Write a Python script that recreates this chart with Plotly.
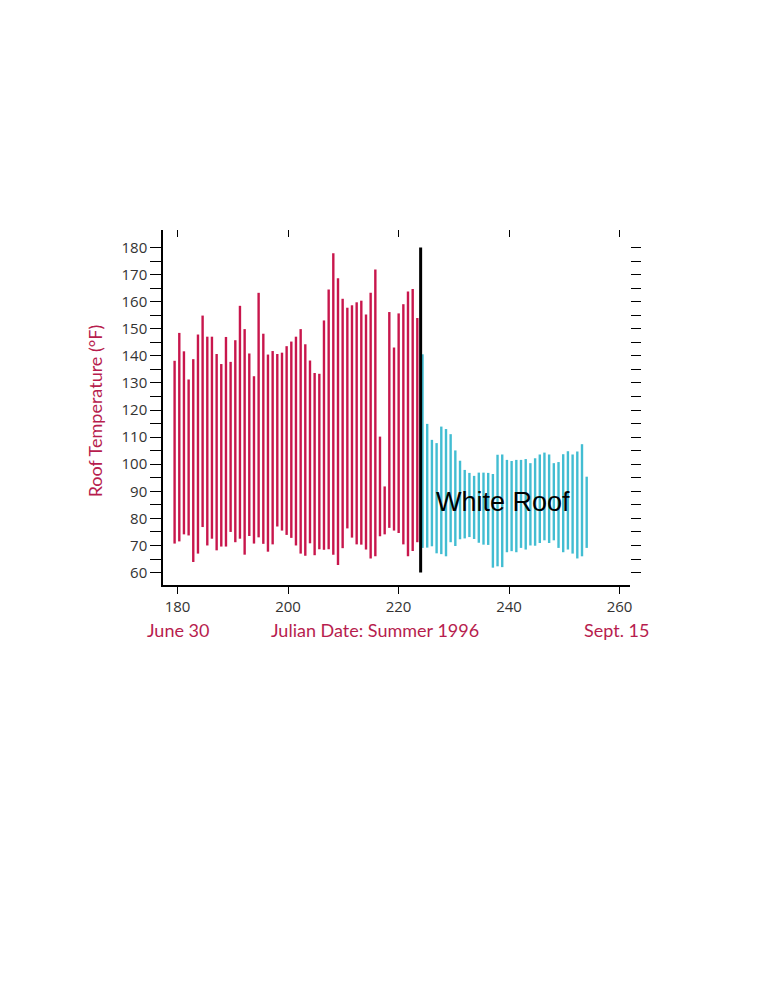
import plotly.graph_objects as go

# ---- data ----
black_roof_days = [179.46, 180.31, 181.15, 182.00, 182.84, 183.69, 184.53, 185.38, 186.22, 187.07,
                   187.91, 188.76, 189.60, 190.45, 191.29, 192.14, 192.98, 193.83, 194.67, 195.52,
                   196.36, 197.21, 198.05, 198.90, 199.74, 200.59, 201.43, 202.28, 203.12, 203.97,
                   204.81, 205.66, 206.50, 207.35, 208.19, 209.04, 209.88, 210.73, 211.57, 212.42,
                   213.26, 214.11, 214.95, 215.80, 216.64, 217.49, 218.33, 219.18, 220.02, 220.87,
                   221.71, 222.56, 223.40]
black_roof_max = [138.2, 148.5, 141.7, 131.3, 138.8, 147.9, 154.9, 147.1, 147.1, 140.7,
                  137.0, 147.0, 137.8, 145.8, 158.5, 149.9, 140.9, 132.5, 163.3, 148.2,
                  140.5, 141.8, 140.7, 141.2, 143.6, 145.3, 147.1, 149.9, 144.3, 138.3,
                  133.7, 133.4, 153.1, 164.5, 177.9, 168.7, 161.1, 157.8, 158.7, 159.8,
                  160.4, 155.3, 163.3, 171.9, 110.2, 91.8, 156.2, 143.1, 155.7, 159.1,
                  163.8, 164.7, 154.0]
black_roof_min = [70.7, 71.5, 74.1, 73.7, 63.9, 67.0, 76.8, 70.0, 72.5, 68.2,
                  69.6, 69.6, 75.0, 71.2, 72.5, 66.6, 73.5, 70.7, 73.0, 70.6,
                  67.7, 70.4, 77.0, 75.5, 73.9, 72.8, 70.0, 67.0, 66.2, 70.8,
                  66.4, 68.6, 68.4, 68.6, 66.6, 62.8, 69.0, 76.3, 72.9, 70.4,
                  70.3, 68.5, 65.2, 66.0, 73.4, 74.1, 76.5, 75.5, 74.6, 70.4,
                  66.0, 68.0, 71.2]

white_roof_days = [224.34, 225.19, 226.04, 226.89, 227.74, 228.59, 229.43, 230.28, 231.13, 231.98,
                   232.83, 233.68, 234.53, 235.38, 236.23, 237.08, 237.92, 238.77, 239.62, 240.47,
                   241.32, 242.17, 243.02, 243.87, 244.72, 245.57, 246.41, 247.26, 248.11, 248.96,
                   249.81, 250.66, 251.51, 252.36, 253.21, 254.06]
white_roof_max = [140.6, 114.9, 109.0, 107.8, 113.9, 113.0, 111.1, 105.1, 101.3, 97.9,
                  96.8, 95.7, 96.9, 96.9, 96.8, 96.4, 103.5, 103.6, 101.6, 101.2,
                  101.6, 101.6, 101.9, 100.4, 102.2, 103.6, 104.3, 103.6, 100.4, 100.8,
                  103.7, 104.8, 103.6, 104.7, 107.4, 95.4]
white_roof_min = [69.1, 69.2, 69.7, 67.1, 66.8, 66.0, 71.2, 69.8, 72.3, 72.6,
                  73.1, 72.4, 71.0, 70.3, 70.2, 61.8, 62.3, 62.0, 67.5, 67.9,
                  67.5, 69.1, 68.5, 70.0, 69.9, 70.9, 71.9, 70.9, 71.9, 69.1,
                  67.5, 68.5, 67.0, 65.2, 66.0, 69.1]

switch_day = 224.0
switch_span = [60, 180]

x_ticks = [180, 200, 220, 240, 260]
y_ticks = list(range(60, 181, 5))
y_ticklabels = [str(v) if v % 10 == 0 else "" for v in y_ticks]

RED = "#C8164C"
CYAN = "#42BDD2"
TEXT_RED = "#B71D4E"
X_RANGE = [177.36, 261.9]
Y_RANGE = [55.4, 186.5]


def segments(xs, lo, hi):
    sx, sy = [], []
    for x, a, b in zip(xs, lo, hi):
        sx += [x, x, None]
        sy += [a, b, None]
    return sx, sy


fig = go.Figure()
rx, ry = segments(black_roof_days, black_roof_min, black_roof_max)
fig.add_trace(go.Scatter(x=rx, y=ry, mode="lines", line=dict(color=RED, width=2.4),
                         showlegend=False, hoverinfo="skip"))
wx, wy = segments(white_roof_days, white_roof_min, white_roof_max)
fig.add_trace(go.Scatter(x=wx, y=wy, mode="lines", line=dict(color=CYAN, width=2.4),
                         showlegend=False, hoverinfo="skip"))
fig.add_trace(go.Scatter(x=[switch_day, switch_day], y=switch_span, mode="lines",
                         line=dict(color="black", width=3), showlegend=False, hoverinfo="skip"))
# mirror axes (top/right tick marks only)
fig.add_trace(go.Scatter(x=[None], y=[None], xaxis="x2", yaxis="y2", showlegend=False,
                         hoverinfo="skip"))

tickfont = dict(family="Open Sans", size=15, color="#333333")
redfont = dict(family="Lato", size=18, color=TEXT_RED)
fig.update_layout(
    width=772, height=1000,
    paper_bgcolor="white", plot_bgcolor="white",
    margin=dict(l=155, r=150, t=222, b=423),
    xaxis=dict(range=X_RANGE, tickvals=x_ticks, ticks="outside", ticklen=7, tickwidth=1.3,
               tickcolor="black", showline=True, linecolor="black", linewidth=1.5,
               showgrid=False, zeroline=False, tickfont=tickfont),
    yaxis=dict(range=Y_RANGE, tickvals=y_ticks, ticktext=y_ticklabels, ticks="outside",
               ticklen=11, tickwidth=1.3, tickcolor="black", showline=True, linecolor="black",
               linewidth=1.5, showgrid=False, zeroline=False, tickfont=tickfont),
    xaxis2=dict(range=X_RANGE, overlaying="x", side="top", tickvals=x_ticks, ticks="inside",
                ticklen=7, tickwidth=1.3, tickcolor="black", showline=False,
                showticklabels=False, showgrid=False, zeroline=False),
    yaxis2=dict(range=Y_RANGE, overlaying="y", side="right", tickvals=y_ticks, ticks="outside",
                ticklen=10, tickwidth=1.3, tickcolor="black", showline=False,
                showticklabels=False, showgrid=False, zeroline=False),
    annotations=[
        dict(text="Roof Temperature (°F)", xref="paper", yref="paper", x=-0.145, y=0.49,
             xanchor="center", yanchor="middle", textangle=-90, showarrow=False, font=redfont),
        dict(text="June 30", xref="paper", yref="paper", x=0.033, y=-0.127,
             xanchor="center", yanchor="middle", showarrow=False, font=redfont),
        dict(text="Julian Date: Summer 1996", xref="paper", yref="paper", x=0.454, y=-0.127,
             xanchor="center", yanchor="middle", showarrow=False, font=redfont),
        dict(text="Sept. 15", xref="paper", yref="paper", x=1.046, y=-0.127,
             xanchor="right", yanchor="middle", showarrow=False, font=redfont),
        dict(text="White Roof", xref="x", yref="y", x=238.9, y=86.1, xanchor="center",
             yanchor="middle", showarrow=False,
             font=dict(family="Liberation Sans", size=27, color="black")),
    ],
)

fig.write_html("out.html")
